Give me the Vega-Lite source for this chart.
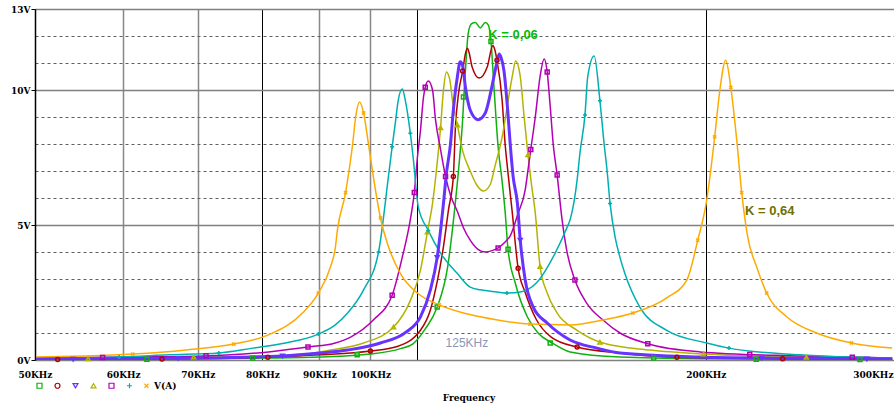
{
  "$schema": "https://vega.github.io/schema/vega-lite/v6.json",
  "width": 867,
  "height": 351,
  "autosize": {"type": "none"},
  "padding": {"left": 35, "top": 9, "right": -8, "bottom": 47},
  "background": "white",
  "config": {
    "view": {"stroke": null},
    "axis": {"labelFont": "DejaVu Serif", "labelFontWeight": "bold", "labelFontSize": 9, "labelColor": "#000000", "titleFont": "DejaVu Serif", "titleFontWeight": "bold", "titleFontSize": 9, "titleColor": "#000000"},
    "legend": {"orient": "none", "legendX": 0, "legendY": 372, "direction": "horizontal", "symbolSize": 25, "symbolStrokeWidth": 1.2, "labelOffset": 3, "columnPadding": 5, "labelFont": "DejaVu Serif", "labelFontWeight": "bold", "labelFontSize": 9, "labelColor": "#000000", "padding": 0}
  },
  "datasets": {
    "curves": [
      {"s":"c1","f":50.1,"v":0.01},{"s":"c1","f":63.5,"v":0.04},{"s":"c1","f":80,"v":0.07},{"s":"c1","f":90.1,"v":0.11},{"s":"c1","f":100,"v":0.22},{"s":"c1","f":106.4,"v":0.42},{"s":"c1","f":109.2,"v":0.6},{"s":"c1","f":112.0,"v":1.15},{"s":"c1","f":114.8,"v":1.96},{"s":"c1","f":117.3,"v":3.44},{"s":"c1","f":119.2,"v":5.85},{"s":"c1","f":120.2,"v":7.4},{"s":"c1","f":121.0,"v":8.9},{"s":"c1","f":121.4,"v":10.0},{"s":"c1","f":121.9,"v":11.2},{"s":"c1","f":122.4,"v":12.1},{"s":"c1","f":123.2,"v":12.45},{"s":"c1","f":124.2,"v":12.5},{"s":"c1","f":125.5,"v":12.3},{"s":"c1","f":126.8,"v":12.5},{"s":"c1","f":127.6,"v":12.4},{"s":"c1","f":128.3,"v":11.8},{"s":"c1","f":129.1,"v":10.1},{"s":"c1","f":130.2,"v":7.9},{"s":"c1","f":131.3,"v":6.6},{"s":"c1","f":132.1,"v":5.5},{"s":"c1","f":132.9,"v":4.1},{"s":"c1","f":134.9,"v":2.85},{"s":"c1","f":138.3,"v":1.6},{"s":"c1","f":141.4,"v":1.0},{"s":"c1","f":145.6,"v":0.63},{"s":"c1","f":151.1,"v":0.3},{"s":"c1","f":167.5,"v":0.11},{"s":"c1","f":197.5,"v":0.05},{"s":"c1","f":294,"v":0.02},
      {"s":"c2","f":50.1,"v":0.02},{"s":"c2","f":63.5,"v":0.04},{"s":"c2","f":81.3,"v":0.11},{"s":"c2","f":90.1,"v":0.19},{"s":"c2","f":100,"v":0.33},{"s":"c2","f":105.7,"v":0.5},{"s":"c2","f":110.9,"v":1.1},{"s":"c2","f":113.2,"v":1.85},{"s":"c2","f":114.8,"v":2.9},{"s":"c2","f":116.3,"v":4.2},{"s":"c2","f":117.5,"v":5.55},{"s":"c2","f":118.7,"v":6.8},{"s":"c2","f":119.2,"v":8.6},{"s":"c2","f":120.0,"v":9.9},{"s":"c2","f":121.0,"v":10.7},{"s":"c2","f":121.7,"v":11.35},{"s":"c2","f":122.2,"v":11.55},{"s":"c2","f":122.6,"v":11.4},{"s":"c2","f":123.4,"v":10.85},{"s":"c2","f":125.2,"v":10.44},{"s":"c2","f":127.3,"v":10.85},{"s":"c2","f":128.8,"v":11.65},{"s":"c2","f":129.3,"v":11.5},{"s":"c2","f":129.9,"v":11.1},{"s":"c2","f":131.3,"v":9.6},{"s":"c2","f":132.1,"v":8.0},{"s":"c2","f":132.6,"v":7.3},{"s":"c2","f":134.0,"v":5.55},{"s":"c2","f":135.7,"v":3.4},{"s":"c2","f":137.7,"v":2.5},{"s":"c2","f":140.9,"v":1.5},{"s":"c2","f":145.3,"v":0.85},{"s":"c2","f":153.3,"v":0.48},{"s":"c2","f":167.5,"v":0.26},{"s":"c2","f":188.4,"v":0.1},{"s":"c2","f":234.4,"v":0.05},{"s":"c2","f":294,"v":0.03},
      {"s":"c3","f":50.1,"v":0.03},{"s":"c3","f":70.5,"v":0.07},{"s":"c3","f":83.4,"v":0.15},{"s":"c3","f":90.1,"v":0.26},{"s":"c3","f":95.4,"v":0.37},{"s":"c3","f":102.1,"v":0.63},{"s":"c3","f":107.7,"v":1.04},{"s":"c3","f":110.9,"v":1.6},{"s":"c3","f":113.2,"v":2.6},{"s":"c3","f":114.8,"v":3.8},{"s":"c3","f":116.3,"v":5.8},{"s":"c3","f":117.0,"v":6.9},{"s":"c3","f":118.0,"v":8.0},{"s":"c3","f":118.7,"v":9.26},{"s":"c3","f":119.7,"v":10.5},{"s":"c3","f":120.4,"v":11.05},{"s":"c3","f":121.0,"v":10.9},{"s":"c3","f":121.7,"v":10.1},{"s":"c3","f":122.9,"v":9.26},{"s":"c3","f":124.9,"v":8.9},{"s":"c3","f":126.8,"v":9.15},{"s":"c3","f":128.5,"v":10.1},{"s":"c3","f":129.7,"v":10.9},{"s":"c3","f":130.5,"v":11.33},{"s":"c3","f":131.0,"v":11.2},{"s":"c3","f":131.8,"v":10.7},{"s":"c3","f":132.8,"v":9.26},{"s":"c3","f":133.5,"v":8.0},{"s":"c3","f":134.3,"v":6.8},{"s":"c3","f":135.5,"v":5.8},{"s":"c3","f":136.3,"v":4.44},{"s":"c3","f":137.7,"v":2.96},{"s":"c3","f":140.0,"v":1.96},{"s":"c3","f":144.1,"v":1.37},{"s":"c3","f":151.1,"v":0.74},{"s":"c3","f":159.7,"v":0.44},{"s":"c3","f":167.5,"v":0.26},{"s":"c3","f":197.5,"v":0.11},{"s":"c3","f":224.5,"v":0.07},{"s":"c3","f":294,"v":0.04},
      {"s":"c4","f":50.1,"v":0.04},{"s":"c4","f":69.4,"v":0.11},{"s":"c4","f":85.4,"v":0.18},{"s":"c4","f":92.1,"v":0.37},{"s":"c4","f":98.6,"v":0.63},{"s":"c4","f":104.9,"v":1.22},{"s":"c4","f":108.6,"v":2.2},{"s":"c4","f":110.9,"v":3.33},{"s":"c4","f":112.5,"v":4.74},{"s":"c4","f":113.7,"v":5.8},{"s":"c4","f":114.6,"v":7.0},{"s":"c4","f":115.6,"v":8.6},{"s":"c4","f":116.3,"v":10.0},{"s":"c4","f":117.0,"v":10.67},{"s":"c4","f":117.8,"v":10.4},{"s":"c4","f":118.5,"v":9.6},{"s":"c4","f":119.7,"v":8.7},{"s":"c4","f":120.9,"v":7.8},{"s":"c4","f":122.9,"v":7.0},{"s":"c4","f":124.5,"v":6.5},{"s":"c4","f":126.3,"v":6.26},{"s":"c4","f":128.1,"v":6.5},{"s":"c4","f":129.4,"v":7.2},{"s":"c4","f":131.3,"v":8.26},{"s":"c4","f":132.8,"v":9.5},{"s":"c4","f":134.2,"v":10.6},{"s":"c4","f":135.0,"v":11.07},{"s":"c4","f":136.3,"v":10.5},{"s":"c4","f":137.4,"v":9.0},{"s":"c4","f":138.5,"v":7.6},{"s":"c4","f":139.4,"v":6.6},{"s":"c4","f":140.6,"v":5.44},{"s":"c4","f":142.0,"v":3.46},{"s":"c4","f":144.1,"v":2.48},{"s":"c4","f":147.1,"v":1.74},{"s":"c4","f":153.3,"v":1.1},{"s":"c4","f":161.7,"v":0.63},{"s":"c4","f":178.3,"v":0.37},{"s":"c4","f":199.1,"v":0.22},{"s":"c4","f":242.8,"v":0.11},{"s":"c4","f":294,"v":0.05},
      {"s":"c5","f":50.1,"v":0.07},{"s":"c5","f":61.6,"v":0.11},{"s":"c5","f":70.7,"v":0.15},{"s":"c5","f":81.0,"v":0.3},{"s":"c5","f":87.9,"v":0.48},{"s":"c5","f":93.0,"v":0.63},{"s":"c5","f":96.0,"v":0.85},{"s":"c5","f":100.6,"v":1.48},{"s":"c5","f":104.6,"v":2.4},{"s":"c5","f":106.8,"v":3.8},{"s":"c5","f":108.6,"v":5.2},{"s":"c5","f":109.5,"v":6.2},{"s":"c5","f":110.2,"v":7.5},{"s":"c5","f":110.9,"v":8.5},{"s":"c5","f":111.6,"v":9.74},{"s":"c5","f":112.0,"v":10.1},{"s":"c5","f":112.7,"v":10.33},{"s":"c5","f":113.7,"v":10.0},{"s":"c5","f":114.4,"v":8.9},{"s":"c5","f":115.6,"v":7.8},{"s":"c5","f":116.8,"v":6.8},{"s":"c5","f":118.0,"v":6.1},{"s":"c5","f":119.7,"v":5.5},{"s":"c5","f":121.2,"v":4.9},{"s":"c5","f":122.9,"v":4.44},{"s":"c5","f":124.9,"v":4.1},{"s":"c5","f":126.8,"v":4.0},{"s":"c5","f":128.6,"v":4.05},{"s":"c5","f":130.2,"v":4.15},{"s":"c5","f":132.1,"v":4.37},{"s":"c5","f":133.5,"v":4.6},{"s":"c5","f":135.7,"v":5.44},{"s":"c5","f":137.7,"v":6.3},{"s":"c5","f":138.5,"v":7.04},{"s":"c5","f":139.3,"v":7.8},{"s":"c5","f":140.6,"v":9.0},{"s":"c5","f":142.0,"v":10.5},{"s":"c5","f":143.2,"v":11.15},{"s":"c5","f":144.1,"v":10.67},{"s":"c5","f":145.0,"v":9.4},{"s":"c5","f":145.9,"v":8.0},{"s":"c5","f":147.1,"v":6.85},{"s":"c5","f":148.6,"v":5.2},{"s":"c5","f":150.2,"v":3.96},{"s":"c5","f":152.6,"v":2.96},{"s":"c5","f":156.4,"v":2.1},{"s":"c5","f":161.7,"v":1.48},{"s":"c5","f":167.5,"v":1.0},{"s":"c5","f":177.4,"v":0.6},{"s":"c5","f":197.5,"v":0.3},{"s":"c5","f":242.8,"v":0.15},{"s":"c5","f":294,"v":0.07},
      {"s":"c6","f":50.1,"v":0.07},{"s":"c6","f":59.5,"v":0.11},{"s":"c6","f":65.9,"v":0.19},{"s":"c6","f":73.1,"v":0.26},{"s":"c6","f":78.4,"v":0.44},{"s":"c6","f":83.9,"v":0.63},{"s":"c6","f":89.8,"v":0.96},{"s":"c6","f":93.0,"v":1.3},{"s":"c6","f":95.4,"v":1.74},{"s":"c6","f":98.6,"v":2.6},{"s":"c6","f":101.7,"v":4.0},{"s":"c6","f":103.8,"v":6.8},{"s":"c6","f":104.6,"v":7.9},{"s":"c6","f":105.3,"v":8.8},{"s":"c6","f":105.9,"v":9.6},{"s":"c6","f":106.8,"v":10.04},{"s":"c6","f":107.5,"v":9.6},{"s":"c6","f":108.6,"v":8.4},{"s":"c6","f":109.3,"v":7.4},{"s":"c6","f":110.4,"v":5.67},{"s":"c6","f":112.7,"v":4.8},{"s":"c6","f":115.6,"v":3.96},{"s":"c6","f":119.7,"v":3.2},{"s":"c6","f":122.9,"v":2.7},{"s":"c6","f":125.5,"v":2.6},{"s":"c6","f":128.1,"v":2.55},{"s":"c6","f":132.6,"v":2.48},{"s":"c6","f":136.3,"v":2.52},{"s":"c6","f":140.9,"v":2.85},{"s":"c6","f":146.5,"v":3.96},{"s":"c6","f":150.2,"v":4.93},{"s":"c6","f":151.1,"v":5.2},{"s":"c6","f":153.3,"v":6.67},{"s":"c6","f":154.2,"v":7.67},{"s":"c6","f":155.8,"v":9.07},{"s":"c6","f":156.7,"v":10.5},{"s":"c6","f":158.8,"v":11.26},{"s":"c6","f":160.7,"v":9.6},{"s":"c6","f":162.1,"v":8.0},{"s":"c6","f":163.1,"v":7.0},{"s":"c6","f":164.1,"v":5.8},{"s":"c6","f":165.8,"v":4.56},{"s":"c6","f":167.5,"v":3.8},{"s":"c6","f":169.2,"v":3.2},{"s":"c6","f":174.5,"v":1.96},{"s":"c6","f":184.5,"v":1.1},{"s":"c6","f":200.4,"v":0.63},{"s":"c6","f":209.8,"v":0.44},{"s":"c6","f":242.8,"v":0.19},{"s":"c6","f":294,"v":0.07},
      {"s":"c7","f":50.1,"v":0.11},{"s":"c7","f":55.5,"v":0.15},{"s":"c7","f":61.2,"v":0.22},{"s":"c7","f":68.3,"v":0.37},{"s":"c7","f":75.4,"v":0.59},{"s":"c7","f":81.0,"v":0.93},{"s":"c7","f":86.9,"v":1.74},{"s":"c7","f":89.8,"v":2.48},{"s":"c7","f":92.1,"v":3.46},{"s":"c7","f":93.0,"v":4.15},{"s":"c7","f":93.4,"v":4.8},{"s":"c7","f":95.0,"v":6.2},{"s":"c7","f":95.4,"v":6.67},{"s":"c7","f":96.4,"v":8.0},{"s":"c7","f":97.0,"v":9.0},{"s":"c7","f":97.8,"v":9.56},{"s":"c7","f":98.6,"v":9.15},{"s":"c7","f":99.6,"v":8.0},{"s":"c7","f":100.6,"v":6.8},{"s":"c7","f":102.1,"v":5.26},{"s":"c7","f":103.8,"v":4.2},{"s":"c7","f":106.4,"v":3.2},{"s":"c7","f":110.2,"v":2.48},{"s":"c7","f":115.3,"v":2.04},{"s":"c7","f":121.2,"v":1.74},{"s":"c7","f":125.5,"v":1.6},{"s":"c7","f":139.1,"v":1.33},{"s":"c7","f":151.1,"v":1.3},{"s":"c7","f":161.7,"v":1.48},{"s":"c7","f":172.0,"v":1.74},{"s":"c7","f":184.5,"v":2.3},{"s":"c7","f":192.3,"v":2.96},{"s":"c7","f":196.7,"v":4.44},{"s":"c7","f":200.4,"v":5.93},{"s":"c7","f":203.7,"v":8.26},{"s":"c7","f":205.9,"v":10.0},{"s":"c7","f":208.4,"v":11.1},{"s":"c7","f":210.6,"v":10.1},{"s":"c7","f":213.2,"v":8.15},{"s":"c7","f":215.4,"v":6.2},{"s":"c7","f":218.1,"v":4.56},{"s":"c7","f":222.2,"v":3.44},{"s":"c7","f":226.8,"v":2.48},{"s":"c7","f":236.4,"v":1.6},{"s":"c7","f":251.4,"v":1.0},{"s":"c7","f":270.3,"v":0.63},{"s":"c7","f":294,"v":0.44}
    ],
    "markers": [
      {"s":"c1","f":121.2,"v":9.74},{"s":"c1","f":114.8,"v":1.96},{"s":"c1","f":128.3,"v":11.8},{"s":"c1","f":132.9,"v":4.1},{"s":"c1","f":145.0,"v":0.63},{"s":"c1","f":179.6,"v":0.07},{"s":"c1","f":63.0,"v":0.03},{"s":"c1","f":78.4,"v":0.07},{"s":"c1","f":97.3,"v":0.19},{"s":"c1","f":222,"v":0.03},{"s":"c1","f":275,"v":0.02},
      {"s":"c2","f":118.7,"v":6.8},{"s":"c2","f":121.0,"v":10.7},{"s":"c2","f":129.9,"v":11.1},{"s":"c2","f":135.7,"v":3.4},{"s":"c2","f":100,"v":0.33},{"s":"c2","f":153.3,"v":0.48},{"s":"c2","f":52.4,"v":0.02},{"s":"c2","f":65.0,"v":0.04},{"s":"c2","f":80.9,"v":0.1},{"s":"c2","f":188.4,"v":0.1},{"s":"c2","f":234.4,"v":0.05},
      {"s":"c3","f":114.8,"v":3.8},{"s":"c3","f":136.3,"v":4.44},{"s":"c3","f":54.1,"v":0.03},{"s":"c3","f":67.2,"v":0.06},{"s":"c3","f":83.4,"v":0.15},{"s":"c3","f":224.5,"v":0.07},{"s":"c3","f":279,"v":0.04},
      {"s":"c4","f":115.6,"v":8.6},{"s":"c4","f":119.7,"v":8.7},{"s":"c4","f":112.5,"v":4.74},{"s":"c4","f":104.9,"v":1.22},{"s":"c4","f":138.5,"v":7.6},{"s":"c4","f":142.0,"v":3.46},{"s":"c4","f":160.7,"v":0.66},{"s":"c4","f":199.1,"v":0.22},{"s":"c4","f":55.8,"v":0.05},{"s":"c4","f":69.4,"v":0.11},{"s":"c4","f":246.2,"v":0.1},
      {"s":"c5","f":112.0,"v":10.1},{"s":"c5","f":116.8,"v":6.8},{"s":"c5","f":109.5,"v":6.2},{"s":"c5","f":104.6,"v":2.4},{"s":"c5","f":130.2,"v":4.15},{"s":"c5","f":139.3,"v":7.8},{"s":"c5","f":144.1,"v":10.67},{"s":"c5","f":147.1,"v":6.85},{"s":"c5","f":152.6,"v":2.96},{"s":"c5","f":177.4,"v":0.6},{"s":"c5","f":87.9,"v":0.48},{"s":"c5","f":71.2,"v":0.16},{"s":"c5","f":57.5,"v":0.09},{"s":"c5","f":219,"v":0.2},{"s":"c5","f":270.7,"v":0.1},
      {"s":"c6","f":104.6,"v":7.9},{"s":"c6","f":108.6,"v":8.4},{"s":"c6","f":101.7,"v":4.0},{"s":"c6","f":112.7,"v":4.8},{"s":"c6","f":132.6,"v":2.48},{"s":"c6","f":155.8,"v":9.07},{"s":"c6","f":160.7,"v":9.6},{"s":"c6","f":164.1,"v":5.8},{"s":"c6","f":209.8,"v":0.44},{"s":"c6","f":89.8,"v":0.96},{"s":"c6","f":73.1,"v":0.26},{"s":"c6","f":59.5,"v":0.11},
      {"s":"c7","f":95.0,"v":6.2},{"s":"c7","f":98.6,"v":9.15},{"s":"c7","f":102.1,"v":5.26},{"s":"c7","f":89.8,"v":2.48},{"s":"c7","f":75.4,"v":0.59},{"s":"c7","f":61.2,"v":0.22},{"s":"c7","f":115.3,"v":2.04},{"s":"c7","f":139.1,"v":1.33},{"s":"c7","f":172.0,"v":1.74},{"s":"c7","f":196.7,"v":4.44},{"s":"c7","f":203.7,"v":8.26},{"s":"c7","f":210.6,"v":10.1},{"s":"c7","f":215.4,"v":6.2},{"s":"c7","f":226.8,"v":2.48},{"s":"c7","f":270.3,"v":0.63}
    ]
  },
  "encoding": {
    "x": {"field": "f", "type": "quantitative", "scale": {"type": "log", "domain": [50, 300]},
      "axis": {"values": [50, 60, 70, 80, 90, 100, 110, 200, 300], "labelExpr": "datum.value == 110 ? '' : datum.value + 'KHz'", "title": "Frequency", "grid": true,
        "gridColor": {"condition": {"test": "datum.value == 80 || datum.value == 110 || datum.value == 200 || datum.value == 50", "value": "#000000"}, "value": "#888888"},
        "gridWidth": {"condition": {"test": "datum.value == 80 || datum.value == 110 || datum.value == 200 || datum.value == 50", "value": 1}, "value": 1.5},
        "domain": false, "ticks": false, "labelPadding": 10, "labelOverlap": false, "labelFlush": false,
        "labelAlign": {"condition": {"test": "datum.value == 300", "value": "right"}, "value": "center"},
        "labelOffset": {"condition": {"test": "datum.value == 300", "value": -9}, "value": 0},
        "titlePadding": 14}},
    "y": {"field": "v", "type": "quantitative", "scale": {"domain": [0, 13], "nice": false},
      "axis": {"values": [0,1,2,3,4,5,6,7,8,9,10,11,12,13], "title": null,
        "labelExpr": "indexof([0,5,10,13], datum.value) >= 0 ? datum.value + 'V' : ''",
        "grid": true,
        "gridDash": {"condition": {"test": "datum.value % 5 == 0 || datum.value == 13", "value": []}, "value": [3, 3]},
        "gridColor": {"condition": {"test": "datum.value % 5 == 0 || datum.value == 13", "value": "#808080"}, "value": "#606060"},
        "gridWidth": {"condition": {"test": "datum.value % 5 == 0 || datum.value == 13", "value": 1.6}, "value": 1},
        "domain": true, "domainColor": "#000000", "domainWidth": 1.5,
        "tickSize": 4, "tickColor": "#000000",
        "tickOpacity": {"condition": {"test": "indexof([0,5,10,13], datum.value) < 0", "value": 0}, "value": 1},
        "labelPadding": 1}}
  },
  "layer": [
    {
      "data": {"name": "curves"},
      "transform": [{"filter": "datum.s != 'c3'"}],
      "mark": {"type": "line", "interpolate": "monotone", "strokeWidth": 1.5, "clip": true},
      "encoding": {
        "color": {"field": "s", "type": "nominal",
          "scale": {"domain": ["c1","c2","c3","c4","c5","c6","c7"], "range": ["#10b010","#b00000","#6633ff","#b4b400","#b400b4","#00b0b0","#ffaa00"]},
          "legend": {"title": null, "labelExpr": "datum.value == 'c7' ? 'V(A)' : ''"}}
      }
    },
    {
      "data": {"name": "curves"},
      "transform": [{"filter": "datum.s == 'c3'"}],
      "mark": {"type": "line", "interpolate": "monotone", "strokeWidth": 3, "clip": true},
      "encoding": {
        "color": {"field": "s", "type": "nominal", "legend": {"title": null, "labelExpr": "datum.value == 'c7' ? 'V(A)' : ''"}}
      }
    },
    {
      "data": {"name": "markers"},
      "mark": {"type": "point", "filled": false, "size": 16, "strokeWidth": 1.5, "opacity": 1},
      "encoding": {
        "color": {"field": "s", "type": "nominal", "legend": {"title": null, "labelExpr": "datum.value == 'c7' ? 'V(A)' : ''"}},
        "shape": {"field": "s", "type": "nominal",
          "scale": {"domain": ["c1","c2","c3","c4","c5","c6","c7"], "range": ["square","circle","triangle-down","triangle-up","square","M-1,0L1,0M0,-1L0,1","M-0.8,-0.8L0.8,0.8M-0.8,0.8L0.8,-0.8"]},
          "legend": {"title": null, "labelExpr": "datum.value == 'c7' ? 'V(A)' : ''"}}
      }
    },
    {
      "data": {"values": [{"f": 127.6, "v": 12.04, "t": "K = 0,06"}]},
      "mark": {"type": "text", "align": "left", "baseline": "middle", "font": "Liberation Sans", "fontWeight": "bold", "fontSize": 13, "color": "#00c000"},
      "encoding": {"text": {"field": "t"}}
    },
    {
      "data": {"values": [{"f": 216.9, "v": 5.52, "t": "K = 0,64"}]},
      "mark": {"type": "text", "align": "left", "baseline": "middle", "font": "Liberation Sans", "fontWeight": "bold", "fontSize": 13, "color": "#707000"},
      "encoding": {"text": {"field": "t"}}
    },
    {
      "data": {"values": [{"f": 116.8, "v": 0.63, "t": "125KHz"}]},
      "mark": {"type": "text", "align": "left", "baseline": "middle", "font": "Liberation Sans", "fontSize": 12, "color": "#8898b8"},
      "encoding": {"text": {"field": "t"}}
    }
  ]
}
